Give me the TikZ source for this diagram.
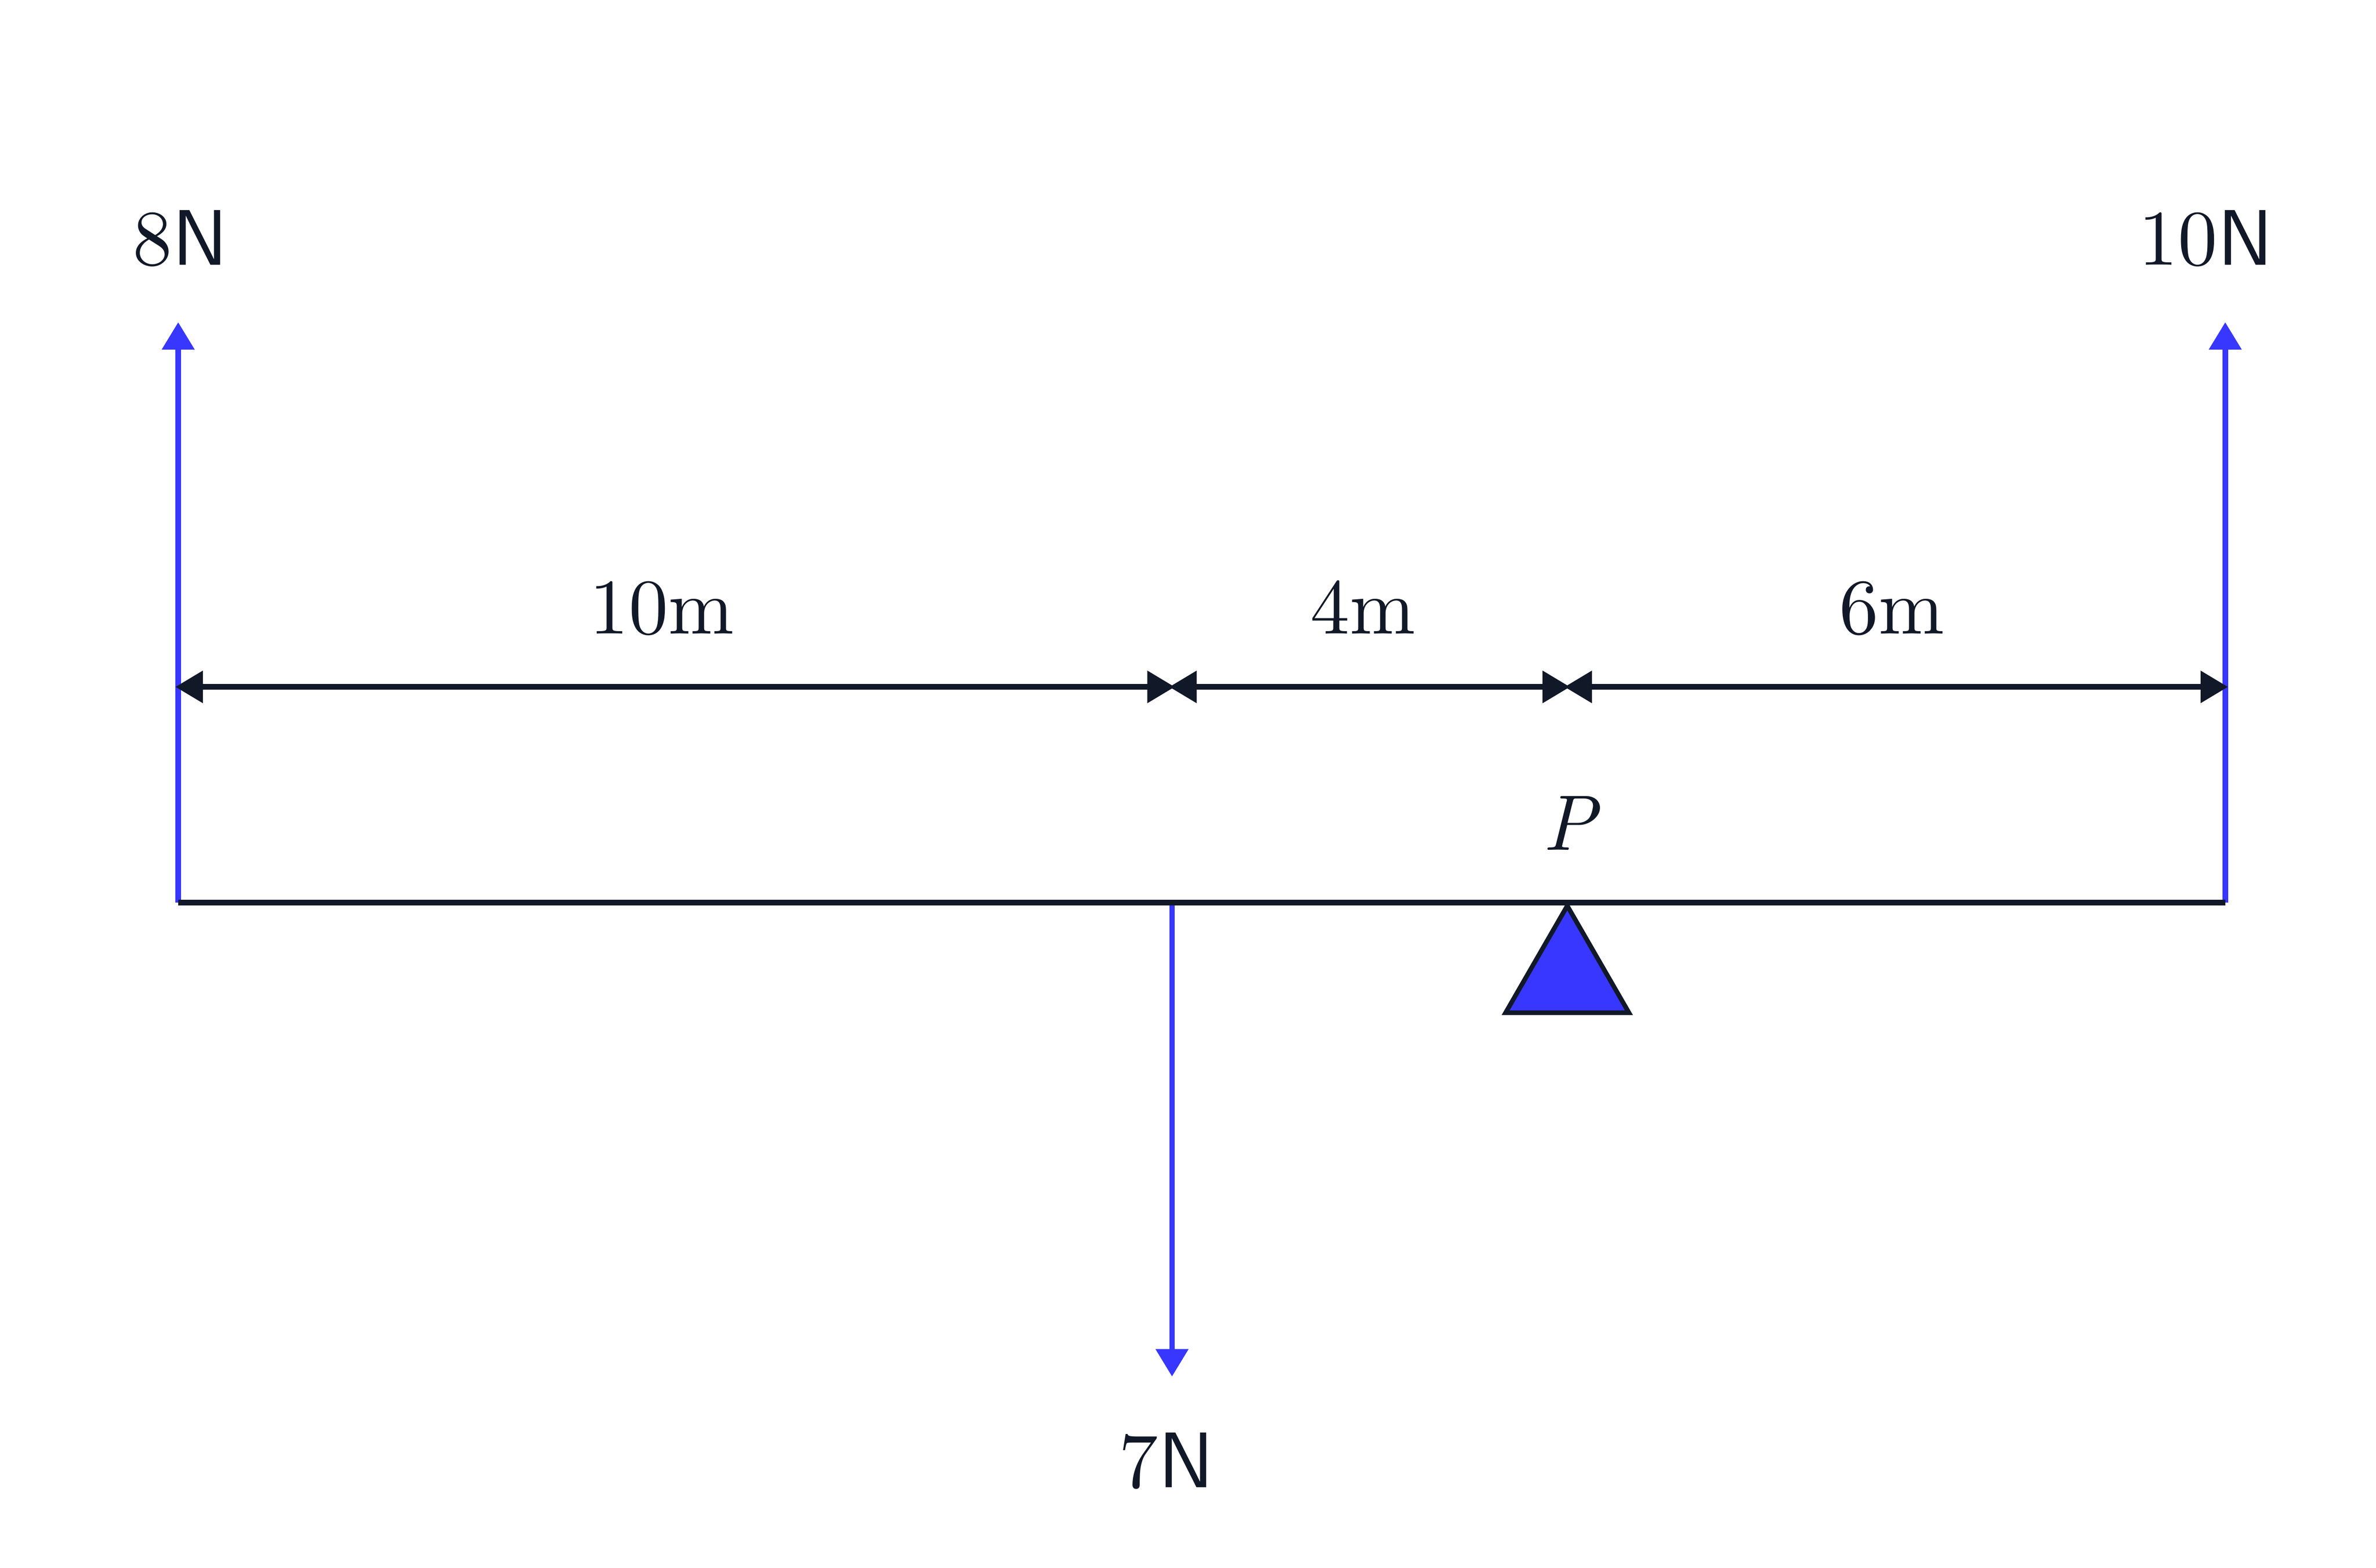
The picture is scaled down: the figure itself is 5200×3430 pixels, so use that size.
\documentclass[tikz,border=0pt]{standalone}
\usepackage{fontspec}
\setmainfont{lmroman10-regular.otf}[ItalicFont=lmroman10-italic.otf]
\setsansfont{lmsans10-regular.otf}
\usetikzlibrary{arrows.meta}
\definecolor{ink}{RGB}{17,24,39}
\definecolor{force}{RGB}{55,55,255}
\tikzset{
  beamline/.style={draw=ink, line width=0.12cm},
  forceline/.style={draw=force, line width=0.12cm, -{Triangle[length=0.6cm,width=0.69cm]}},
  dimline/.style={draw=ink, line width=0.12cm, {Triangle[length=0.6cm,width=0.68cm]}-{Triangle[length=0.6cm,width=0.68cm]}, shorten <=-0.06cm, shorten >=-0.06cm},
  lbl/.style={text=ink, inner sep=0pt, anchor=base, font=\fontsize{49}{58}\selectfont},
  pivot/.style={draw=ink, fill=force, line width=0.1cm, line join=miter}
}
\newcommand{\unitN}{\textsf{N}}
\begin{document}
\begin{tikzpicture}[x=0.01cm, y=-0.01cm]
\useasboundingbox (0,0) rectangle (5200,3430);
% key points
\coordinate (L) at (390,1975);
\coordinate (M) at (2565,1975);
\coordinate (R) at (4870,1975);
\coordinate (Ltop) at (390,705);
\coordinate (Rtop) at (4870,705);
\coordinate (Mbot) at (2565,3012);
\coordinate (dL) at (390,1503);
\coordinate (dM) at (2565,1503);
\coordinate (dP) at (3430,1503);
\coordinate (dR) at (4870,1503);
% pivot
\coordinate (apex) at (3430,1982);
\coordinate (bl) at (3295,2216);
\coordinate (br) at (3565,2216);
\draw[pivot] (apex) -- (bl) -- (br) -- cycle;
% forces
\draw[forceline] (L) -- (Ltop);
\draw[forceline] (R) -- (Rtop);
\draw[forceline] (M) -- (Mbot);
% beam
\draw[beamline] (L) -- (R);
% dimensions
\draw[dimline] (dL) -- (dM);
\draw[dimline] (dM) -- (dP);
\draw[dimline] (dP) -- (dR);
% labels
\node[lbl] (l8) at (395,580) {8\unitN};
\node[lbl] (l10) at (4828,580) {10\unitN};
\node[lbl] (l7) at (2553,3255) {7\unitN};
\node[lbl] (d10) at (1448,1387) {10m};
\node[lbl] (d4) at (2983,1387) {4m};
\node[lbl] (d6) at (4140,1387) {6m};
\node[lbl] (lP) at (3435,1860) {\itshape P};
\end{tikzpicture}
\end{document}
